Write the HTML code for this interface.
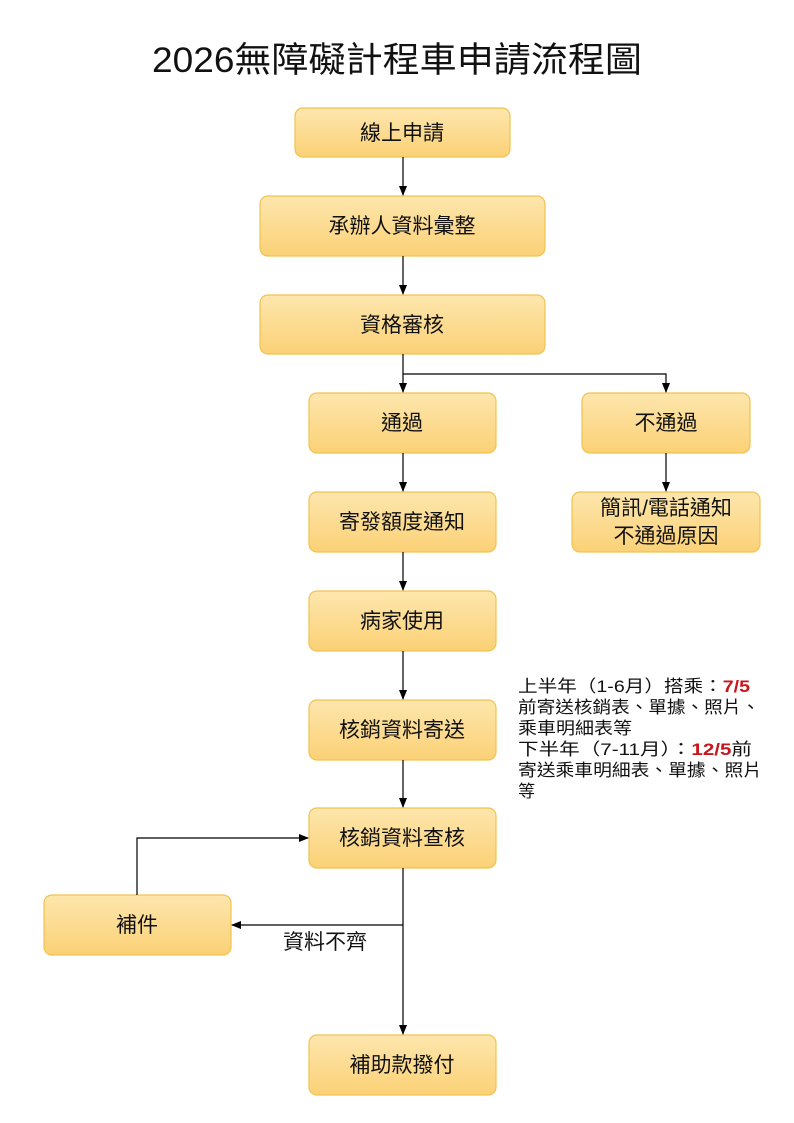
<!DOCTYPE html>
<html><head><meta charset="utf-8"><style>
html,body{margin:0;padding:0;background:#fff;width:794px;height:1123px;overflow:hidden}
text{font-family:"Liberation Sans","Noto Sans CJK TC",sans-serif;fill:#111}
</style></head><body>
<svg width="794" height="1123" viewBox="0 0 794 1123" xmlns="http://www.w3.org/2000/svg">
<defs>
<linearGradient id="g" x1="0" y1="0" x2="0" y2="1"><stop offset="0" stop-color="#fde6ad"/><stop offset="1" stop-color="#fbd176"/></linearGradient>
<marker id="a" markerWidth="10" markerHeight="10" refX="9" refY="5" orient="auto" markerUnits="userSpaceOnUse"><path d="M0,1 L10,5 L0,9 z" fill="#000"/></marker>
</defs>
<text x="397" y="72" font-size="35" text-anchor="middle" textLength="490" lengthAdjust="spacingAndGlyphs">2026無障礙計程車申請流程圖</text>
<g fill="url(#g)" stroke="#f0c34f" stroke-width="1.2">
<rect x="295" y="108" width="215" height="49" rx="8"/>
<rect x="260" y="196" width="285" height="60" rx="8"/>
<rect x="260" y="295" width="285" height="59" rx="8"/>
<rect x="309" y="393" width="187" height="60" rx="8"/>
<rect x="582" y="393" width="168" height="60" rx="8"/>
<rect x="309" y="492" width="187" height="60" rx="8"/>
<rect x="572" y="492" width="188" height="60" rx="8"/>
<rect x="309" y="591" width="187" height="60" rx="8"/>
<rect x="309" y="700" width="187" height="60" rx="8"/>
<rect x="309" y="808" width="187" height="60" rx="8"/>
<rect x="44" y="895" width="187" height="60" rx="8"/>
<rect x="309" y="1035" width="187" height="60" rx="8"/>
</g>
<g font-size="21" text-anchor="middle">
<text x="402" y="140">線上申請</text>
<text x="402" y="233">承辦人資料彙整</text>
<text x="402" y="332">資格審核</text>
<text x="402" y="430">通過</text>
<text x="666" y="430">不通過</text>
<text x="402" y="529">寄發額度通知</text>
<text x="666" y="515">簡訊/電話通知</text>
<text x="666" y="543">不通過原因</text>
<text x="402" y="628">病家使用</text>
<text x="402" y="737">核銷資料寄送</text>
<text x="402" y="845">核銷資料查核</text>
<text x="137" y="932">補件</text>
<text x="402" y="1072">補助款撥付</text>
<text x="325" y="949">資料不齊</text>
</g>
<g stroke="#000" stroke-width="1.2" fill="none">
<path d="M403 157V195" marker-end="url(#a)"/>
<path d="M403 256V294" marker-end="url(#a)"/>
<path d="M403 354V392" marker-end="url(#a)"/>
<path d="M403 374H666V392" marker-end="url(#a)"/>
<path d="M403 453V491" marker-end="url(#a)"/>
<path d="M666 453V491" marker-end="url(#a)"/>
<path d="M403 552V590" marker-end="url(#a)"/>
<path d="M403 651V699" marker-end="url(#a)"/>
<path d="M403 760V807" marker-end="url(#a)"/>
<path d="M403 868V1034" marker-end="url(#a)"/>
<path d="M403 925H232" marker-end="url(#a)"/>
<path d="M137 895V838H308" marker-end="url(#a)"/>
</g>
<g font-size="17">
<text x="518" y="692" textLength="232" lengthAdjust="spacingAndGlyphs">上半年（1-6月）搭乘：<tspan fill="#c8161d" font-weight="bold">7/5</tspan></text>
<text x="518" y="713" textLength="242" lengthAdjust="spacingAndGlyphs">前寄送核銷表、單據、照片、</text>
<text x="518" y="734" textLength="114" lengthAdjust="spacingAndGlyphs">乘車明細表等</text>
<text x="518" y="755" textLength="234" lengthAdjust="spacingAndGlyphs">下半年（7-11月）：<tspan fill="#c8161d" font-weight="bold">12/5</tspan>前</text>
<text x="518" y="776" textLength="244" lengthAdjust="spacingAndGlyphs">寄送乘車明細表、單據、照片</text>
<text x="518" y="797">等</text>
</g>
</svg>
</body></html>
